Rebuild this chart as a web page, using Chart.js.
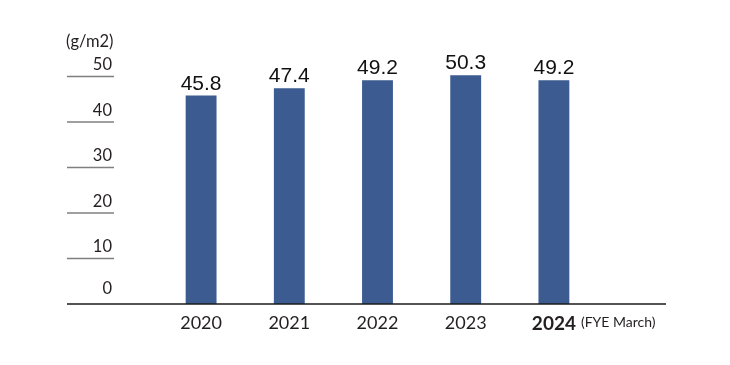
<!DOCTYPE html>
<html>
<head>
<meta charset="utf-8">
<script src="https://cdn.jsdelivr.net/npm/chart.js@4"></script>
<style>
  body { margin: 0; background: #fff; }
  #wrap { width: 730px; height: 365px; }
</style>
</head>
<body>
<div id="wrap"><canvas id="chart" width="730" height="365"></canvas></div>
<script>
const years = ['2020', '2021', '2022', '2023', '2024'];
const values = [45.8, 47.4, 49.2, 50.3, 49.2];
const yTicks = [0, 10, 20, 30, 40, 50];
const unitLabel = '(g/m2)';
const fyeNote = '(FYE March)';

const BAR = '#3b5b91';
const INK = '#231f20';

// short tick lines, tick labels, baseline, value labels and the FYE note
const decor = {
    id: 'decor',
    afterDraw(chart) {
        const ctx = chart.ctx;
        const y = chart.scales.y, x = chart.scales.x;
        ctx.save();
        ctx.font = '16.5px Lato';
        ctx.fillStyle = INK;
        ctx.textAlign = 'left';
        ctx.textBaseline = 'alphabetic';
        ctx.fillText(unitLabel, 66, 47);

        yTicks.forEach(v => {
            const py = y.getPixelForValue(v);
            ctx.textAlign = 'right';
            ctx.fillStyle = INK;
            ctx.font = '16.5px Lato';
            ctx.fillText(String(v), 112, py - (v === 0 ? 10.5 : 6.5));
            if (v === 0) return;
            ctx.strokeStyle = '#7f7f7f';
            ctx.lineWidth = 1.6;
            ctx.beginPath();
            ctx.moveTo(67, py);
            ctx.lineTo(114, py);
            ctx.stroke();
        });

        const base = y.getPixelForValue(0);
        ctx.strokeStyle = '#1a1a1a';
        ctx.lineWidth = 1.5;
        ctx.beginPath();
        ctx.moveTo(67, base);
        ctx.lineTo(666, base);
        ctx.stroke();

        const meta = chart.getDatasetMeta(0);
        ctx.font = '21px "Liberation Sans"';
        ctx.fillStyle = '#111';
        ctx.textAlign = 'center';
        meta.data.forEach((bar, i) => {
            ctx.fillText(values[i].toFixed(1), bar.x, bar.y - 6);
        });

        const last = x.getPixelForValue(years.length - 1);
        ctx.font = 'bold 19px Lato';
        const w = ctx.measureText(years[years.length - 1]).width;
        ctx.font = '14px Lato';
        ctx.textAlign = 'left';
        ctx.fillStyle = INK;
        ctx.fillText(fyeNote, last + w / 2 + 5, 327);
        ctx.restore();
    }
};

new Chart(document.getElementById('chart').getContext('2d'), {
    type: 'bar',
    data: {
        labels: years,
        datasets: [{
            data: values,
            backgroundColor: BAR,
            borderWidth: 0,
            categoryPercentage: 0.35,
            barPercentage: 1
        }]
    },
    options: {
        responsive: false,
        animation: false,
        layout: { padding: { left: 157, right: 132, top: 31, bottom: 0 } },
        plugins: { legend: { display: false }, tooltip: { enabled: false } },
        scales: {
            y: { display: false, min: 0, max: 60 },
            x: {
                grid: { display: false, drawTicks: false },
                border: { display: false },
                ticks: {
                    padding: 8,
                    color: INK,
                    font: ctx => ctx.index === years.length - 1
                        ? { family: 'Lato', size: 19, weight: 'bold' }
                        : { family: 'Lato', size: 18 }
                },
                afterFit(scale) { scale.height = 61; }
            }
        }
    },
    plugins: [decor]
});
</script>
</body>
</html>
